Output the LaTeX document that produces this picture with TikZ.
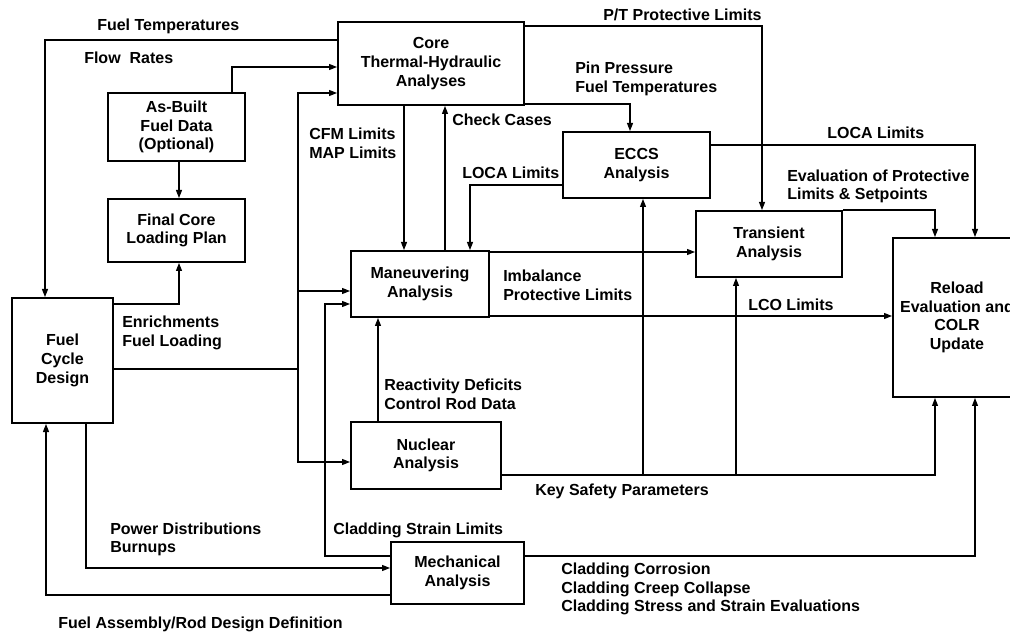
\documentclass[tikz,border=0pt]{standalone}
\usepackage{fontspec}
\setmainfont{Liberation Sans}
\usetikzlibrary{arrows.meta}
\begin{document}
\begin{tikzpicture}[x=0.75pt,y=-0.75pt,
  txt/.style={font=\fontsize{12}{14}\selectfont\bfseries},
  box/.style={draw, line width=1.5pt, txt, align=center, inner sep=0pt},
  lbl/.style={txt, align=left, anchor=west, inner sep=0pt},
  ln/.style={line width=0.8pt},
  arr/.style={line width=0.8pt, -{Triangle[length=6pt,width=4.5pt]}}]
\useasboundingbox (0,0) rectangle (1010,634);
% boxes
\node[box, minimum width=139.5pt, minimum height=62.25pt] (core) at (431,63.5) {Core\\Thermal-Hydraulic\\Analyses};
\node[box, minimum width=102.75pt, minimum height=51pt] (asbuilt) at (176.5,127) {As-Built\\Fuel Data\\(Optional)};
\node[box, minimum width=102.75pt, minimum height=47.25pt] (final) at (176.5,230.5) {Final Core\\Loading Plan};
\node[box, minimum width=75.75pt, minimum height=93.75pt] (fuel) at (62.5,360.5) {Fuel\\Cycle\\Design};
\node[box, minimum width=103.5pt, minimum height=49.5pt] (man) at (420,284) {Maneuvering\\Analysis};
\node[box, minimum width=110.25pt, minimum height=49.5pt] (eccs) at (636.5,165) {ECCS\\Analysis};
\node[box, minimum width=109.5pt, minimum height=49.5pt] (trans) at (769,244) {Transient\\Analysis};
\node[box, minimum width=96pt, minimum height=119.25pt] (reload) at (957,317.5) {Reload\\Evaluation and\\COLR\\Update};
\node[box, minimum width=112.5pt, minimum height=50.25pt] (nuc) at (426,455.5) {Nuclear\\Analysis};
\node[box, minimum width=99.75pt, minimum height=46.5pt] (mech) at (457.5,573) {Mechanical\\Analysis};
% junction coordinates
\coordinate (bus) at (298,369);
\coordinate (k1) at (643,475);
\coordinate (k2) at (736,475);
% connectors
\draw[arr] (core.west |- 0,40) -| (fuel.north -| 45,0);
\draw[arr] (asbuilt.north -| 232,0) |- (core.west |- 0,67);
\draw[ln] (fuel.east |- bus) -- (bus);
\draw[arr] (bus) |- (core.west |- 0,93);
\draw[arr] (bus) |- (man.west |- 0,291);
\draw[arr] (bus) |- (nuc.west |- 0,462);
\draw[arr] (mech.west |- 0,556) -- (325,556) -- (325,304) -- (man.west |- 0,304);
\draw[arr] (fuel.south -| 86,0) |- (mech.west |- 0,568);
\draw[arr] (mech.west |- 0,595) -| (fuel.south -| 46,0);
\draw[arr] (fuel.east |- 0,304) -| (final.south -| 179,0);
\draw[arr] (asbuilt.south -| 179,0) -- (final.north -| 179,0);
\draw[arr] (core.south -| 404,0) -- (man.north -| 404,0);
\draw[arr] (man.north -| 445,0) -- (core.south -| 445,0);
\draw[arr] (core.east |- 0,104) -| (eccs.north -| 630,0);
\draw[arr] (core.east |- 0,26) -| (trans.north -| 762,0);
\draw[arr] (eccs.west |- 0,185) -| (man.north -| 470,0);
\draw[arr] (eccs.east |- 0,145) -| (reload.north -| 975,0);
\draw[arr] (trans.north east) -| (reload.north -| 935,0);
\draw[arr] (man.east |- 0,252) -- (trans.west |- 0,252);
\draw[arr] (man.east |- 0,316) -- (reload.west |- 0,316);
\draw[arr] (nuc.east |- k1) -| (reload.south -| 935,0);
\draw[arr] (k1) -- (eccs.south -| k1);
\draw[arr] (k2) -- (trans.south -| k2);
\draw[arr] (nuc.north -| 378,0) -- (man.south -| 378,0);
\draw[arr] (mech.east |- 0,556) -| (reload.south -| 975,0);
% labels
\node[lbl] (l1) at (97,26) {Fuel Temperatures};
\node[lbl] (l2) at (84,58) {Flow\ \ Rates};
\node[lbl] (l3) at (603,15) {P/T Protective Limits};
\node[lbl] (l4) at (575,79) {Pin Pressure\\Fuel Temperatures};
\node[lbl] (l5) at (452,120) {Check Cases};
\node[lbl] (l6) at (309,143) {CFM Limits\\MAP Limits};
\node[lbl] (l7) at (462,173) {LOCA Limits};
\node[lbl] (l8) at (827,133) {LOCA Limits};
\node[lbl] (l9) at (787,186.5) {Evaluation of Protective\\Limits \& Setpoints};
\node[lbl] (l10) at (503,285.5) {Imbalance\\Protective Limits};
\node[lbl] (l11) at (748,305) {LCO Limits};
\node[lbl] (l12) at (122,333) {Enrichments\\Fuel Loading};
\node[lbl] (l13) at (384,394) {Reactivity Deficits\\Control Rod Data};
\node[lbl] (l14) at (535,491) {Key Safety Parameters};
\node[lbl] (l15) at (333,530) {Cladding Strain Limits};
\node[lbl] (l16) at (110,539.5) {Power Distributions\\Burnups};
\node[lbl] (l17) at (561,589) {Cladding Corrosion\\Cladding Creep Collapse\\Cladding Stress and Strain Evaluations};
\node[lbl] (l18) at (58,624) {Fuel Assembly/Rod Design Definition};
\end{tikzpicture}
\end{document}
